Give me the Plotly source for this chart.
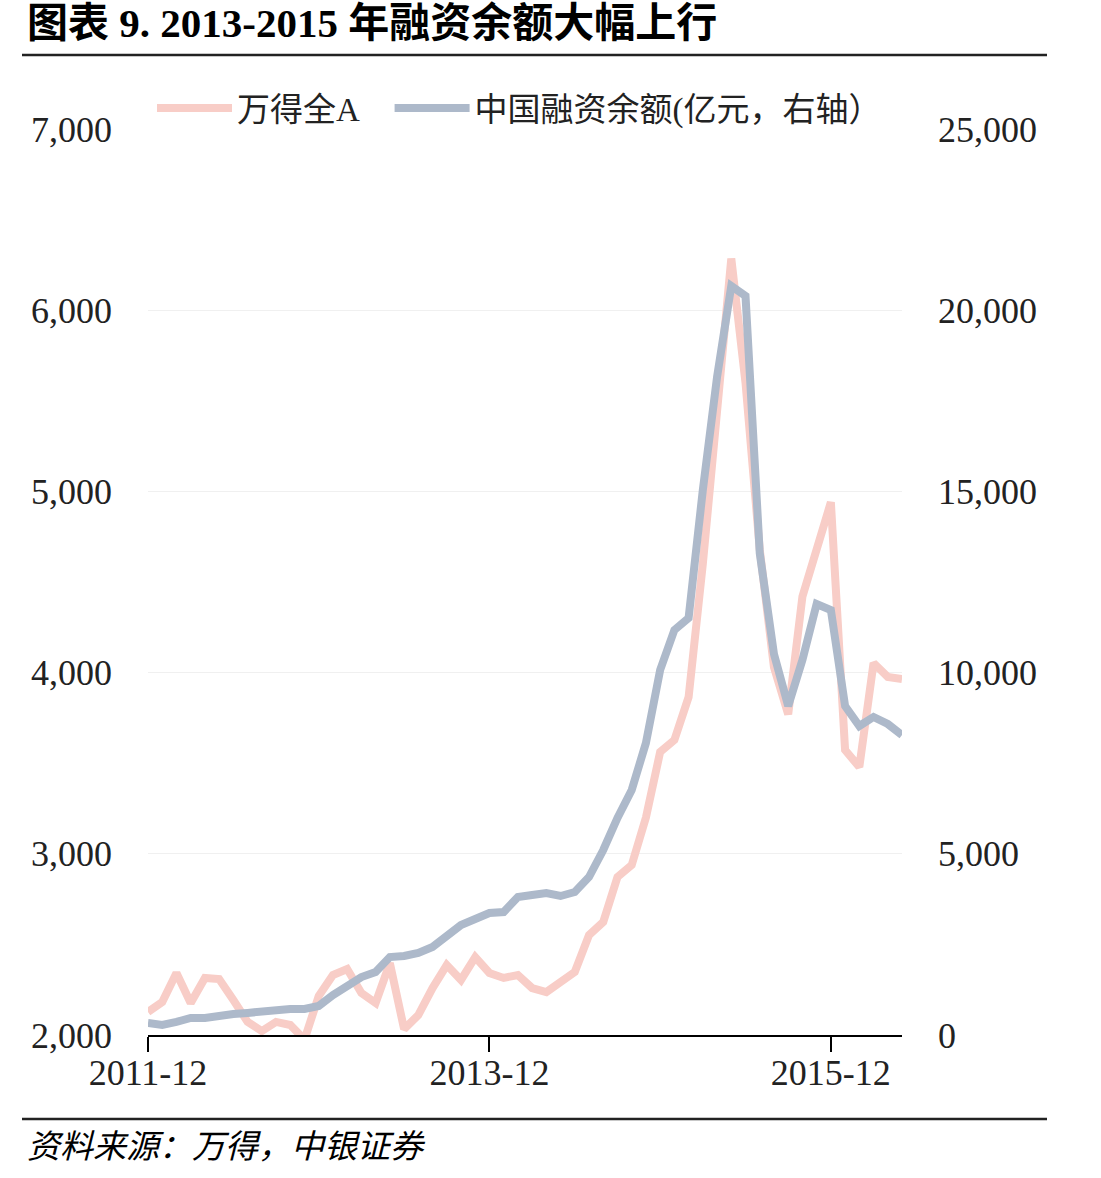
import plotly.graph_objects as go
import pandas as pd

months = [d.strftime("%Y-%m") for d in pd.date_range("2011-12-01", "2016-05-01", freq="MS")]

wind_a = [2127, 2182, 2342, 2177, 2315, 2309, 2193, 2072, 2022, 2072,
          2055, 1975, 2215, 2331, 2364, 2232, 2177, 2397, 2033, 2110,
          2259, 2386, 2304, 2430, 2342, 2315, 2331, 2259, 2237, 2287,
          2348, 2552, 2624, 2872, 2938, 3200, 3562, 3628, 3865, 4600,
          5450, 6285, 5600, 4680, 4030, 3770, 4420, 4680, 4940, 3573,
          3479, 4053, 3976, 3965]

margin_bal = [330, 280, 360, 470, 470, 550, 580, 610, 660, 690,
              717, 717, 800, 1100, 1380, 1600, 1738, 2152, 2180, 2263,
              2428, 2759, 3035, 3201, 3366, 3394, 3808, 3863, 3918, 3836,
              3946, 4360, 5105, 5988, 6761, 8057, 10072, 11175, 11507, 15039,
              18157, 20668, 20392, 13300, 10513, 9078, 10348, 11893, 11727, 9078,
              8527, 8775, 8582, 8278]

x_ticks = ["2011-12", "2013-12", "2015-12"]
left_ticks = [2000, 3000, 4000, 5000, 6000, 7000]
right_ticks = [0, 5000, 10000, 15000, 20000, 25000]

PINK = "#F8CDC7"
BLUE = "#ADB9CA"
SERIF = "Liberation Serif, Noto Sans CJK SC"

fig = go.Figure()
fig.add_trace(go.Scatter(x=months, y=wind_a, name="万得全A&nbsp;&nbsp;&nbsp;", mode="lines",
                         line=dict(color=PINK, width=8)))
fig.add_trace(go.Scatter(x=months, y=margin_bal, name="中国融资余额(亿元，右轴）", mode="lines",
                         line=dict(color=BLUE, width=8), yaxis="y2"))

L, R, T, B = 148, 199, 129, 143
W, H = 1101, 1178
pw = W - L - R
ph = H - T - B

def px(xp):
    return (xp - L) / pw

def py(yp):
    return (H - B - yp) / ph

fig.update_layout(
    width=W, height=H,
    margin=dict(l=L, r=R, t=T, b=B),
    paper_bgcolor="white", plot_bgcolor="white",
    showlegend=True,
    legend=dict(orientation="h", x=px(152), y=py(108), xanchor="left", yanchor="middle",
                font=dict(family=SERIF, size=33, color="#222"), itemwidth=75,
                bgcolor="rgba(0,0,0,0)"),
    xaxis=dict(type="category", range=[0, len(months) - 1], tickmode="array",
               tickvals=x_ticks, ticktext=x_ticks, showgrid=False,
               showline=True, linecolor="black", linewidth=1.5,
               ticks="outside", ticklen=15, tickcolor="black", tickwidth=1.5,
               ticklabelstandoff=-10,
               tickfont=dict(family=SERIF, size=36, color="#222"), zeroline=False),
    yaxis=dict(range=[2000, 7000], tickvals=left_ticks, tickformat=",",
               showgrid=True, gridcolor="#F0F0F0", gridwidth=1, zeroline=False,
               showline=False, ticks="", ticklabelstandoff=35,
               tickfont=dict(family=SERIF, size=36, color="#222")),
    yaxis2=dict(range=[0, 25000], tickvals=right_ticks, tickformat=",",
                overlaying="y", side="right", showgrid=False, zeroline=False,
                showline=False, ticks="", ticklabelstandoff=35,
                tickfont=dict(family=SERIF, size=36, color="#222")),
    shapes=[
        dict(type="line", xref="paper", yref="paper", x0=px(22), x1=px(1047),
             y0=py(55), y1=py(55), line=dict(color="#222", width=2.5)),
        dict(type="line", xref="paper", yref="paper", x0=px(22), x1=px(1047),
             y0=py(1119), y1=py(1119), line=dict(color="#222", width=2.5)),
    ],
    annotations=[
        dict(text="<b>图表 9. 2013-2015 年融资余额大幅上行</b>", xref="paper", yref="paper",
             x=px(25), y=py(23), xanchor="left", yanchor="middle", showarrow=False,
             font=dict(family=SERIF, size=41, color="black")),
        dict(text="<i>资料来源：万得，中银证券</i>", xref="paper", yref="paper",
             x=px(25), y=py(1147), xanchor="left", yanchor="middle", showarrow=False,
             font=dict(family=SERIF, size=33, color="black")),
    ],
)

fig.write_html("out.html")
